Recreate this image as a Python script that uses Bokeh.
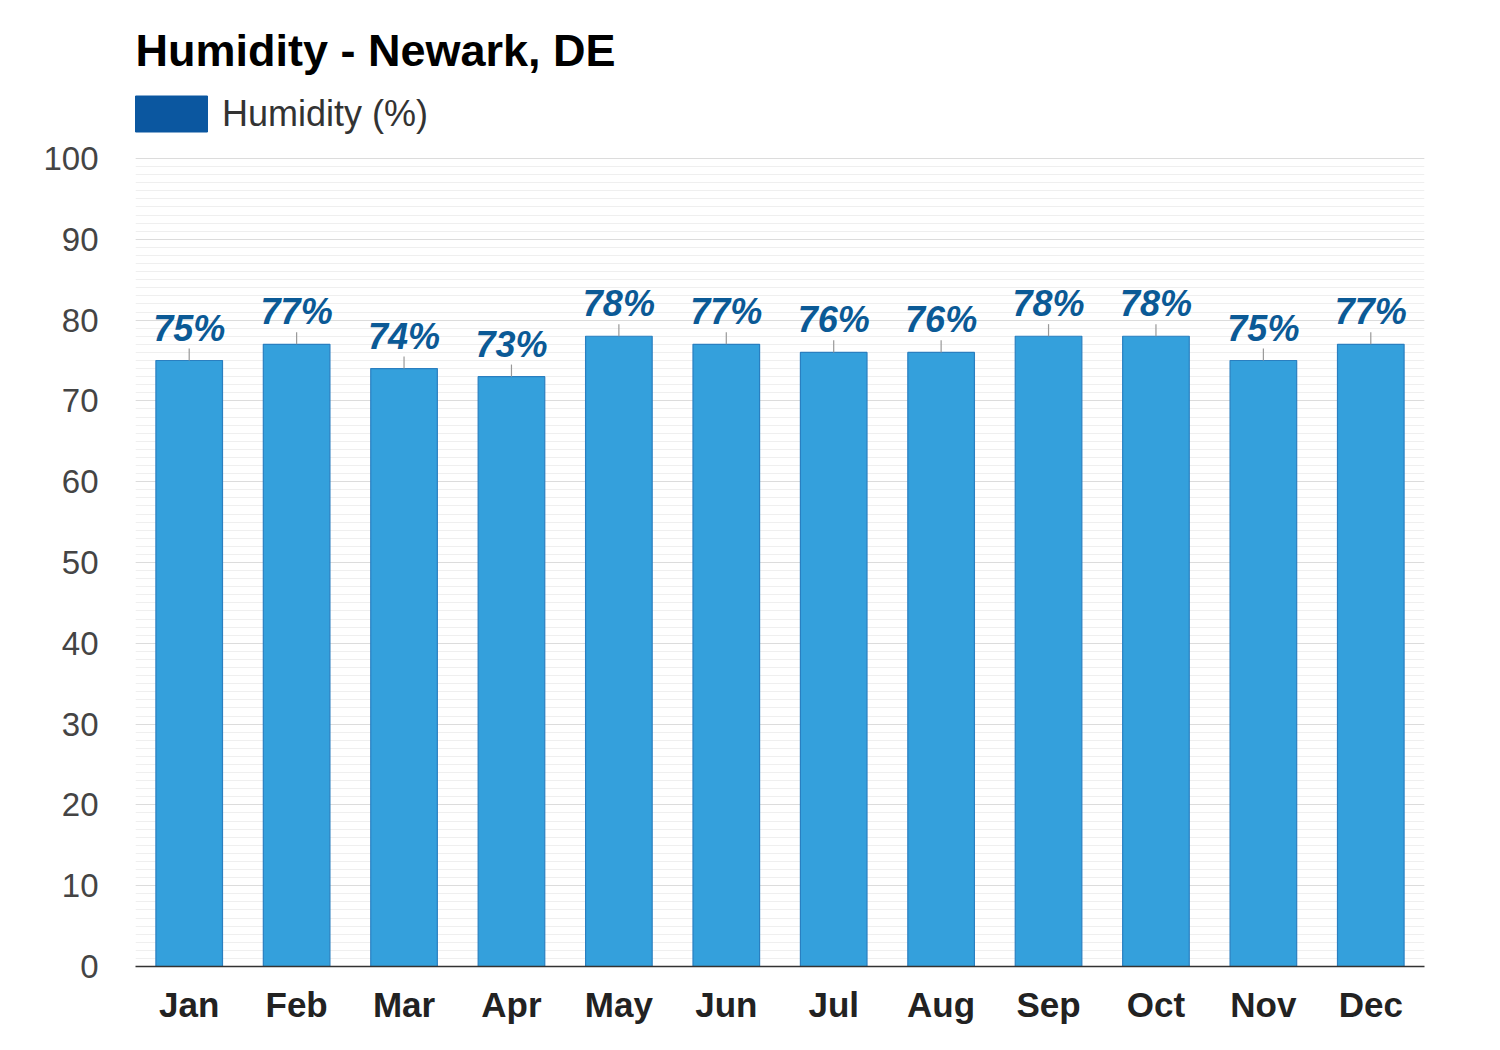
from bokeh.plotting import figure
from bokeh.models import (ColumnDataSource, Range1d, FactorRange, SingleIntervalTicker,
                          LabelSet, Label, Legend, LegendItem)
from bokeh.core.properties import value
from bokeh.embed import file_html
from bokeh.resources import INLINE

months = ["Jan", "Feb", "Mar", "Apr", "May", "Jun", "Jul", "Aug", "Sep", "Oct", "Nov", "Dec"]
humidity = [75, 77, 74, 73, 78, 77, 76, 76, 78, 78, 75, 77]
labels = [f"{v}%" for v in humidity]
title_text = "Humidity - Newark, DE"
series_name = "Humidity (%)"

FONT = "Liberation Sans"

src = ColumnDataSource(dict(month=months, val=humidity, lab=labels,
                            top_line=[v + 1.5 for v in humidity]))

# frame spans the full top area so title/legend annotations are not clipped
Y_TOP = 100 + 158 / 8.08
p = figure(width=1484, height=1030, x_range=FactorRange(*months, range_padding=0),
           y_range=Range1d(0, Y_TOP), output_backend="svg", toolbar_location=None,
           min_border_left=135, min_border_right=60, min_border_top=0, min_border_bottom=64)
p.outline_line_color = None
p.background_fill_color = "white"
p.border_fill_color = "white"

bars = p.vbar(x="month", top="val", bottom=0, width=0.62, source=src,
              fill_color="#34a0dc", line_color="#2a7fc0", line_width=1.2)
p.segment(x0="month", y0="val", x1="month", y1="top_line", source=src,
          line_color="#999999", line_width=1.2)

ls = LabelSet(x="month", y="val", text="lab", source=src, y_offset=20,
              text_align="center", text_baseline="alphabetic",
              text_font=value(FONT), text_font_size="36px", text_font_style="bold italic",
              text_color="#0b5a96")
p.add_layout(ls)

# axes
p.yaxis.ticker = SingleIntervalTicker(interval=10, num_minor_ticks=10)
p.yaxis.bounds = (0, 100)
p.yaxis.axis_line_color = None
p.yaxis.major_tick_line_color = None
p.yaxis.minor_tick_line_color = None
p.yaxis.major_label_text_font = FONT
p.yaxis.major_label_text_font_size = "33px"
p.yaxis.major_label_text_color = "#444444"
p.yaxis.major_label_standoff = 31

p.xaxis.axis_line_color = "#333333"
p.xaxis.axis_line_width = 1.5
p.xaxis.major_tick_line_color = None
p.xaxis.minor_tick_line_color = None
p.xaxis.major_label_text_font = FONT
p.xaxis.major_label_text_font_size = "35px"
p.xaxis.major_label_text_font_style = "bold"
p.xaxis.major_label_text_color = "#222222"
p.xaxis.major_label_standoff = 12

p.xgrid.grid_line_color = None
p.ygrid.bounds = (0, 100)
p.ygrid.grid_line_color = "#dcdcdc"
p.ygrid.grid_line_width = 1
p.ygrid.minor_grid_line_color = "#efefef"
p.ygrid.minor_grid_line_width = 1

# title
p.add_layout(Label(x=0, y=916, x_units="screen", y_units="screen", text=title_text,
                   text_font=FONT, text_font_size="45px", text_font_style="bold",
                   text_color="#000000", text_baseline="alphabetic"))

# legend
dummy = p.vbar(x=[months[0]], top=[0], bottom=[0], width=0.0,
               fill_color="#0b57a0", line_color="#0b57a0")
leg = Legend(items=[LegendItem(label=series_name, renderers=[dummy])],
             location=(-9, 830), glyph_width=90, glyph_height=45,
             label_text_font=FONT, label_text_font_size="36px", label_text_color="#333333",
             label_standoff=6, padding=0, margin=0, spacing=0,
             background_fill_alpha=0, border_line_color=None, label_height=45)
p.add_layout(leg)

open("out.html", "w").write(file_html(p, INLINE))
